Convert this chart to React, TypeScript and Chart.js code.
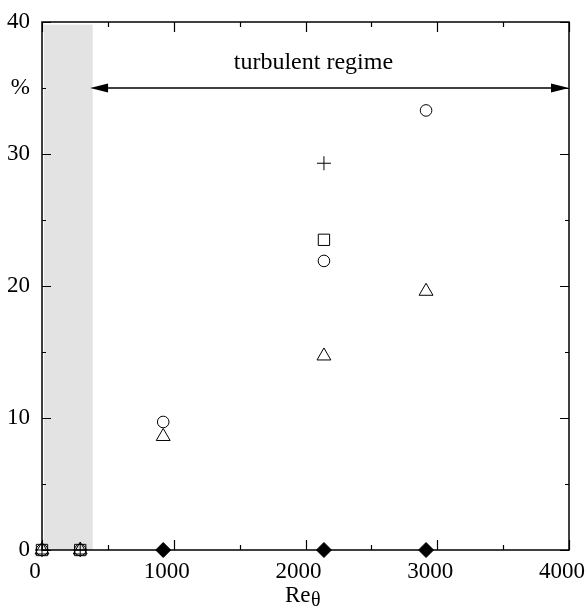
import React, { useEffect, useRef } from "react";
import { Chart, registerables } from "chart.js";

Chart.register(...registerables);

// ---- data ----
const reCircle = [0, 290, 920, 2140, 2915];
const pctCircle = [0, 0, 9.7, 21.9, 33.3];
const reTriangle = [0, 290, 920, 2140, 2915];
const pctTriangle = [0, 0, 8.6, 14.7, 19.6];
const reSquare = [0, 290, 2140];
const pctSquare = [0, 0, 23.5];
const rePlus = [0, 290, 2140];
const pctPlus = [0, 0, 29.3];
const reDiamond = [920, 2140, 2915];
const pctDiamond = [0, 0, 0];

const xLabelValues = [0, 1000, 2000, 3000, 4000];
const xLabelTexts = ["0", "1000", "2000", "3000", "4000"];
const yLabelValues = [0, 10, 20, 30, 35, 40];
const yLabelTexts = ["0", "10", "20", "30", "%", "40"];
const xMajorTicks = [0, 1000, 2000, 3000, 4000];
const xMinorTicks = [500, 1500, 2500, 3500];
const yMajorTicks = [0, 10, 20, 30, 40];
const yMinorTicks = [5, 15, 25, 35];

// shaded (laminar/transition) band and turbulent-regime arrow, in data units
const bandRe = [15, 385];
const bandPct = [0, 39.8];
const arrowRe = [365, 4000];
const arrowPct = 35;
const regimeLabel = "turbulent regime";
const regimeLabelAt = { re: 2060, pct: 36.45 };

const FONT = "'Liberation Serif', 'Times New Roman', serif";

const toPts = (xs: number[], ys: number[]) => xs.map((x, i) => ({ x, y: ys[i] }));

const decorPlugin = {
  id: "decor",
  beforeDatasetsDraw(chart: any) {
    const { ctx, chartArea } = chart;
    const xs = chart.scales.x;
    const ys = chart.scales.y;
    const { left, right, top, bottom } = chartArea;
    ctx.save();
    // band
    const bx0 = xs.getPixelForValue(bandRe[0]);
    const bx1 = xs.getPixelForValue(bandRe[1]);
    const by0 = ys.getPixelForValue(bandPct[1]);
    const by1 = ys.getPixelForValue(bandPct[0]);
    ctx.fillStyle = "#e3e3e3";
    ctx.fillRect(bx0, by0, bx1 - bx0, by1 - by0);

    // frame
    ctx.strokeStyle = "#000";
    ctx.lineWidth = 1.5;
    ctx.strokeRect(left, top, right - left, bottom - top);

    // ticks (inward, mirrored)
    ctx.lineWidth = 1.2;
    ctx.beginPath();
    const xt = (vals: number[], len: number) => {
      vals.forEach((v) => {
        const p = Math.round(xs.getPixelForValue(v)) + 0.5;
        ctx.moveTo(p, bottom);
        ctx.lineTo(p, bottom - len);
        ctx.moveTo(p, top);
        ctx.lineTo(p, top + len);
      });
    };
    const yt = (vals: number[], len: number) => {
      vals.forEach((v) => {
        const p = Math.round(ys.getPixelForValue(v)) + 0.5;
        ctx.moveTo(left, p);
        ctx.lineTo(left + len, p);
        ctx.moveTo(right, p);
        ctx.lineTo(right - len, p);
      });
    };
    xt(xMajorTicks, 10);
    xt(xMinorTicks, 5);
    yt(yMajorTicks, 9);
    yt(yMinorTicks, 4);
    ctx.stroke();

    // arrow
    const ax0 = xs.getPixelForValue(arrowRe[0]);
    const ax1 = xs.getPixelForValue(arrowRe[1]);
    const ay = ys.getPixelForValue(arrowPct);
    const hl = 18;
    const hw = 4.5;
    ctx.lineWidth = 1.5;
    ctx.beginPath();
    ctx.moveTo(ax0 + hl - 2, ay);
    ctx.lineTo(ax1 - hl + 2, ay);
    ctx.stroke();
    ctx.fillStyle = "#000";
    ctx.beginPath();
    ctx.moveTo(ax0, ay);
    ctx.lineTo(ax0 + hl, ay - hw);
    ctx.lineTo(ax0 + hl, ay + hw);
    ctx.closePath();
    ctx.fill();
    ctx.beginPath();
    ctx.moveTo(ax1, ay);
    ctx.lineTo(ax1 - hl, ay - hw);
    ctx.lineTo(ax1 - hl, ay + hw);
    ctx.closePath();
    ctx.fill();

    // regime text
    ctx.font = `24px ${FONT}`;
    ctx.textAlign = "center";
    ctx.textBaseline = "alphabetic";
    ctx.fillText(regimeLabel, xs.getPixelForValue(regimeLabelAt.re), ys.getPixelForValue(regimeLabelAt.pct));

    // x-axis title: Re with subscript theta
    ctx.textAlign = "left";
    ctx.font = `23px ${FONT}`;
    ctx.fillText("Re", 285, 602);
    const w = ctx.measureText("Re").width;
    ctx.font = `20px ${FONT}`;
    ctx.fillText("θ", 285 + w + 0.5, 606);
    ctx.restore();
  },
};

export default function App() {
  const ref = useRef<HTMLCanvasElement>(null);
  useEffect(() => {
    if (!ref.current) return;
    const markerBase = {
      showLine: false,
      clip: false,
      borderColor: "#000",
      backgroundColor: "rgba(0,0,0,0)",
      pointBorderWidth: 1,
    };
    const chart = new Chart(ref.current, {
      type: "scatter",
      data: {
        datasets: [
          { ...markerBase, label: "circle", data: toPts(reCircle, pctCircle), pointStyle: "circle", pointRadius: 5.8 },
          { ...markerBase, label: "triangle", data: toPts(reTriangle, pctTriangle), pointStyle: "triangle", pointRadius: 8 },
          { ...markerBase, label: "square", data: toPts(reSquare, pctSquare), pointStyle: "rect", pointRadius: 8 },
          { ...markerBase, label: "plus", data: toPts(rePlus, pctPlus), pointStyle: "cross", pointRadius: 7 },
          {
            ...markerBase,
            label: "diamond",
            data: toPts(reDiamond, pctDiamond),
            pointStyle: "rectRot",
            pointRadius: 7.5,
            backgroundColor: "#000",
          },
        ],
      },
      options: {
        animation: false,
        responsive: false,
        events: [],
        layout: { padding: { top: 22, right: 19, left: 0, bottom: 0 } },
        plugins: { legend: { display: false }, tooltip: { enabled: false } },
        scales: {
          x: {
            type: "linear",
            min: 0,
            max: 4000,
            grid: { display: false, drawTicks: false },
            border: { display: false },
            ticks: {
              stepSize: 500,
              autoSkip: false,
              maxRotation: 0,
              padding: 8,
              labelOffset: -7,
              color: "#000",
              font: { family: FONT, size: 23 },
              callback: (v: any) => {
                const i = xLabelValues.indexOf(Number(v));
                return i >= 0 ? xLabelTexts[i] : "";
              },
            },
            afterFit: (s: any) => {
              s.height = 61;
              s.paddingLeft = 0;
              s.paddingRight = 0;
            },
          },
          y: {
            type: "linear",
            min: 0,
            max: 40,
            grid: { display: false, drawTicks: false },
            border: { display: false },
            ticks: {
              stepSize: 5,
              autoSkip: false,
              padding: 12,
              color: "#000",
              font: { family: FONT, size: 23 },
              callback: (v: any) => {
                const i = yLabelValues.indexOf(Number(v));
                return i >= 0 ? yLabelTexts[i] : "";
              },
            },
            afterFit: (s: any) => {
              s.width = 42;
              s.paddingTop = 0;
              s.paddingBottom = 0;
            },
          },
        },
      },
      plugins: [decorPlugin],
    });
    return () => chart.destroy();
  }, []);
  return (
    <div style={{ position: "absolute", left: 0, top: 0, width: 588, height: 611, background: "#fff" }}>
      <canvas ref={ref} width={588} height={611} style={{ display: "block", width: 588, height: 611 }} />
    </div>
  );
}
